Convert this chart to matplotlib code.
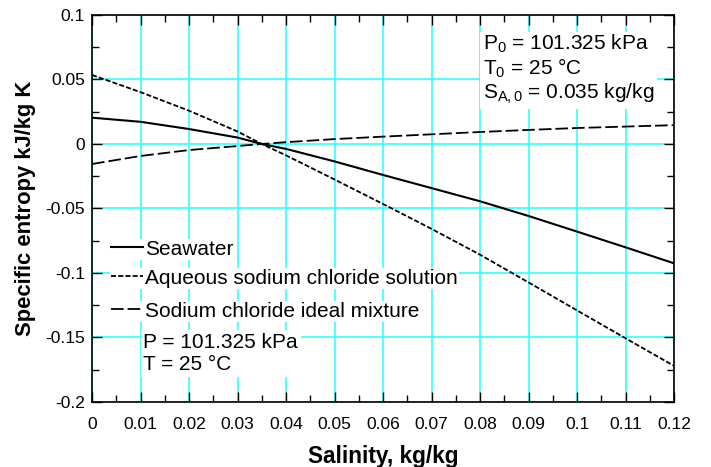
import numpy as np
import matplotlib.pyplot as plt
from matplotlib.ticker import MultipleLocator

plt.rcParams["font.family"] = ["Liberation Sans", "DejaVu Sans"]
plt.rcParams["mathtext.fontset"] = "custom"
plt.rcParams["mathtext.rm"] = "Liberation Sans"
plt.rcParams["mathtext.it"] = "Liberation Sans:italic"

# Salinity grid (kg/kg) and specific entropy curves (kJ/kg K)
salinity = [0.0, 0.01, 0.02, 0.03, 0.035, 0.04, 0.05, 0.06, 0.07, 0.08, 0.09, 0.10, 0.11, 0.12]
seawater = [0.0204, 0.0172, 0.0116, 0.0050, 0.0, -0.0038, -0.0135, -0.0240, -0.0342,
            -0.0444, -0.0558, -0.0679, -0.0801, -0.0925]
aqueous_nacl = [0.0535, 0.0402, 0.0258, 0.0097, 0.0, -0.0088, -0.0275, -0.0465, -0.0658,
                -0.0858, -0.1073, -0.1290, -0.1506, -0.1720]
ideal_mixture = [-0.0155, -0.0093, -0.0047, -0.0016, 0.0, 0.0014, 0.0038, 0.0057, 0.0075,
                 0.0093, 0.0109, 0.0124, 0.0135, 0.0146]

series = [
    ("Seawater", seawater, "-", None),
    ("Aqueous sodium chloride solution", aqueous_nacl, "--", (2.8, 1.2)),
    ("Sodium chloride ideal mixture", ideal_mixture, "--", (7.0, 2.2)),
]

fig = plt.figure(figsize=(7.11, 4.67), dpi=100)
ax = fig.add_axes([0.1294, 0.1392, 0.8186, 0.8287])

lines = []
for label, values, style, dashes in series:
    kw = {"dashes": dashes} if dashes else {}
    ln, = ax.plot(salinity, values, style, color="black",
                  lw=1.5 if dashes is None else 1.3, label=label, zorder=3, **kw)
    lines.append(ln)

ax.set_xlim(0, 0.12)
ax.set_ylim(-0.2, 0.1)
ax.xaxis.set_minor_locator(MultipleLocator(0.005))
ax.yaxis.set_minor_locator(MultipleLocator(0.025))
ax.set_xticks(np.arange(0, 0.1201, 0.01))
ax.set_xticklabels(["0", "0.01", "0.02", "0.03", "0.04", "0.05", "0.06",
                    "0.07", "0.08", "0.09", "0.1", "0.11", "0.12"])
ax.set_yticks([-0.2, -0.15, -0.1, -0.05, 0, 0.05, 0.1])
ax.set_yticklabels(["-0.2", "-0.15", "-0.1", "-0.05", "0", "0.05", "0.1"])
ax.tick_params(which="both", direction="in", top=True, right=True,
               labelsize=12.5, width=1)
ax.tick_params(which="major", length=7)
ax.tick_params(which="minor", length=5)
ax.tick_params(axis="x", which="major", pad=11)
ax.tick_params(axis="y", which="major", pad=5)
ax.grid(True, which="major", color="#33ffff", lw=1.2, zorder=0)
for s in ax.spines.values():
    s.set_linewidth(1.2)

ax.set_xlabel("Salinity, kg/kg", fontsize=16.3, fontweight="bold", labelpad=9)
ax.set_ylabel("Specific entropy kJ/kg K", fontsize=15.8, fontweight="bold", labelpad=7)

# One legend per series so each row keeps its own white backing
row_tops = [0.422, 0.347, 0.262]
for ln, top in zip(lines, row_tops):
    leg = ax.legend(handles=[ln], loc="upper left", bbox_to_anchor=(0.031, top),
                    fontsize=15, frameon=True, fancybox=False, framealpha=1,
                    edgecolor="none", facecolor="white", borderpad=0.05,
                    borderaxespad=0, handlelength=1.55, handletextpad=0.1)
    leg.set_zorder(4)
    ax.add_artist(leg)

box = dict(facecolor="white", edgecolor="none", pad=2)
ax.text(0.0806, 0.0862,
        "P$_\\mathrm{0}$ = 101.325 kPa\nT$_\\mathrm{0}$ = 25 °C\nS$_\\mathrm{A,0}$ = 0.035 kg/kg",
        fontsize=15, va="top", ha="left", linespacing=1.1, bbox=box, zorder=4)
ax.text(0.0106, -0.1466, "P = 101.325 kPa\nT = 25 °C",
        fontsize=15, va="top", ha="left", linespacing=1.2, bbox=box, zorder=4)

fig.savefig("out.png", dpi=100)
